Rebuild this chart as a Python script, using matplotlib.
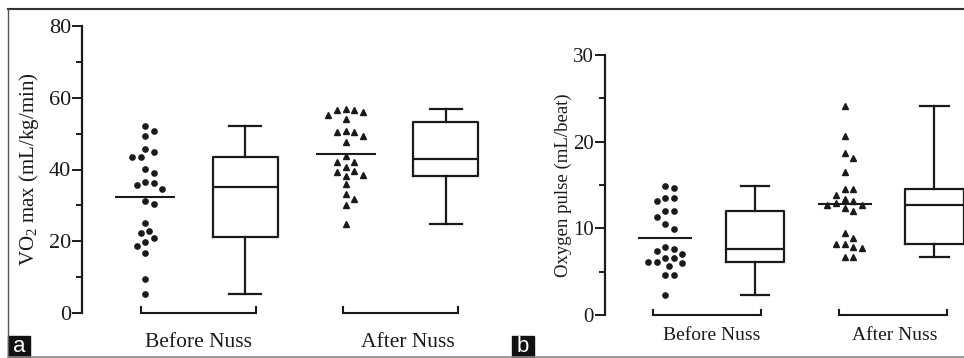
import numpy as np
import matplotlib.pyplot as plt
from matplotlib.patches import Rectangle
from matplotlib.lines import Line2D

plt.rcParams['font.family'] = 'Liberation Serif'
plt.rcParams['mathtext.fontset'] = 'custom'
plt.rcParams['mathtext.rm'] = 'Liberation Serif'

groups = ["Before Nuss", "After Nuss"]

# VO2 max (mL/kg/min)
vo2_before = [52.1, 50.8, 49.4, 44.8, 45.6, 43.4, 43.4, 40.1, 39.0, 36.3, 36.5, 35.6,
              34.5, 31.2, 30.5, 25.1, 22.9, 22.4, 20.9, 19.9, 18.8, 16.6, 9.6, 5.4]
vo2_after = [56.6, 56.1, 56.6, 57.0, 54.0, 55.2, 50.5, 50.5, 50.7, 49.2, 47.8, 43.8,
             42.1, 42.1, 40.6, 39.2, 38.2, 38.5, 39.7, 35.9, 33.2, 31.8, 30.1, 24.7]

# Oxygen pulse (mL/beat)
pulse_before = [14.9, 14.7, 13.5, 13.5, 13.1, 12.0, 12.0, 11.3, 10.5, 9.9, 7.9, 7.4,
                7.6, 7.0, 6.6, 6.6, 6.1, 6.0, 6.1, 5.7, 4.65, 4.6, 2.3]
pulse_after = [24.1, 20.6, 18.7, 18.1, 16.5, 14.5, 14.5, 13.85, 13.4, 13.2, 12.9, 12.7,
               12.7, 12.4, 12.0, 9.5, 8.9, 8.15, 8.15, 7.8, 7.7, 6.65, 6.7]

INK = '#1a1a1a'


def box_stats(vals):
    v = np.asarray(vals)
    q1, med, q3 = np.percentile(v, [25, 50, 75], method='weibull')
    return dict(med=med, q1=q1, q3=q3, whislo=v.min(), whishi=v.max(), fliers=[])


def swarm(ax, x0, vals, diam=8.0, step=4.3):
    # simple beeswarm in pixel space
    vals = np.asarray(vals, float)
    placed = []
    xs = np.zeros(len(vals))
    ks = [0]
    for k in range(1, 20):
        ks += [k, -k]
    inv = ax.transData.inverted()
    for i in np.argsort(vals)[::-1]:
        xc, yc = ax.transData.transform((x0, vals[i]))
        for k in ks:
            xp = xc + k * step
            if all(np.hypot(xp - px, yc - py) >= diam for px, py in placed):
                break
        placed.append((xp, yc))
        xs[i] = inv.transform((xp, yc))[0]
    return xs


def panel(ax, before, after, ymax, major, ylabel, fs, lab_fs, ylab_fs,
          br_c, br_hw, br_h, lab_x, lab_y, ylab_x, ms):
    ax.set_ylim(0, ymax)
    ax.set_yticks(np.arange(0, ymax + 1, major))
    ax.set_yticks(np.arange(major / 2, ymax, major), minor=True)
    for s in ['top', 'right', 'bottom']:
        ax.spines[s].set_visible(False)
    ax.spines['left'].set_linewidth(1.6)
    ax.spines['left'].set_color(INK)
    ax.set_xticks([])
    ax.tick_params(axis='y', which='major', length=7, width=1.4, pad=1,
                   labelsize=fs, colors=INK)
    ax.tick_params(axis='y', which='minor', length=4, width=1.4, colors=INK)
    ax.set_ylabel(ylabel, fontsize=ylab_fs, color=INK)
    ax.yaxis.set_label_coords(ylab_x, 0.5)

    for x0, vals, mk, size in [(1, before, 'o', ms), (3, after, '^', ms + 0.6)]:
        xs = swarm(ax, x0, vals)
        ax.plot(xs, vals, mk, ms=size, color=INK, mec=INK, clip_on=False, zorder=3)
        ax.hlines(np.mean(vals), x0 - 0.3, x0 + 0.3, color=INK, lw=1.5, zorder=2)

    ax.bxp([box_stats(before), box_stats(after)], positions=[2, 4], widths=0.65,
           capwidths=0.32, showfliers=False,
           boxprops=dict(color=INK, lw=1.6), medianprops=dict(color=INK, lw=1.6),
           whiskerprops=dict(color=INK, lw=1.6), capprops=dict(color=INK, lw=1.6),
           manage_ticks=False)
    for c in br_c:
        ax.plot([c - br_hw, c - br_hw, c + br_hw, c + br_hw], [br_h, 0, 0, br_h],
                color=INK, lw=1.5, clip_on=False, solid_joinstyle='miter')
    for x, g in zip(lab_x, groups):
        ax.text(x, lab_y, g, transform=ax.get_xaxis_transform(), ha='center',
                va='baseline', fontsize=lab_fs, color=INK)


fig = plt.figure(figsize=(9.64, 3.58), dpi=100)
W, H = 964, 358

# panel a
ax1 = fig.add_axes([82 / W, 1 - 313 / H, (481 - 82) / W, (313 - 26) / H])
ax1.set_xlim(0.37, 4.35)
panel(ax1, vo2_before, vo2_after, 80, 20, r'VO$_\mathrm{2}$ max (mL/kg/min)',
      16, 15.5, 15, [1.53, 3.55], 0.575, 1.7, [1.53, 3.62], -0.118,
      (41 - 82) / 399, 3.8)

# panel b
ax2 = fig.add_axes([605 / W, 1 - 315 / H, (964 - 605) / W, (315 - 55) / H])
ax2.set_xlim(0.33, 4.33)
panel(ax2, pulse_before, pulse_after, 30, 10, 'Oxygen pulse (mL/beat)',
      15, 14, 13.5, [1.47, 3.54], 0.6, 0.6, [1.52, 3.56], -0.096,
      (572 - 605) / 359, 3.8)

# frame
fig.add_artist(Line2D([8 / W, 1], [1 - 8.5 / H] * 2, color='#333333', lw=1.5))
fig.add_artist(Line2D([8 / W] * 2, [1 - 8.5 / H, 1 - 357 / H], color='#555555', lw=1.0))
fig.add_artist(Line2D([8 / W, 1], [1 - 357 / H] * 2, color='#888888', lw=1.2))

# panel letters
for x0, letter in [(8, 'a'), (512, 'b')]:
    fig.add_artist(Rectangle((x0 / W, 1 - 357 / H), 22 / W, 21 / H, color='#111111',
                             transform=fig.transFigure))
    fig.text((x0 + 11) / W, 1 - 347 / H, letter, color='white', ha='center', va='center',
             fontsize=16, family='Liberation Sans')

fig.savefig('out.png', dpi=100)
